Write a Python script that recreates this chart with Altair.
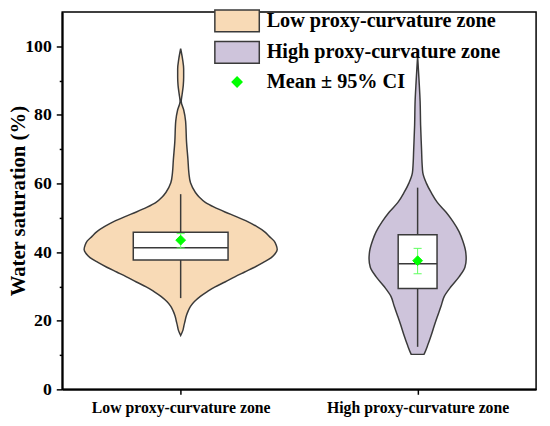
import json
import altair as alt
import pandas as pd

# ---------------- data ----------------
ZONES = ["Low proxy-curvature zone", "High proxy-curvature zone"]
MEAN_LABEL = "Mean ± 95% CI"
ZONE_X = [0.5, 1.5]

# violin outlines: sample value (%) and relative kernel density (half-width)
LOW_VALUES = [15.7, 17.2, 18.6, 20.0, 21.4, 22.8, 24.2, 25.6, 27.1, 28.5,
              29.9, 31.3, 32.8, 34.2, 35.6, 37.0, 38.4, 39.6, 40.8, 42.0,
              43.2, 44.6, 46.0, 47.5, 48.9, 50.3, 51.7, 53.1, 54.5, 56.0,
              57.4, 60.2, 63.1, 66.8, 72.0, 78.2, 81.5, 83.9, 86.0, 88.6,
              91.0, 93.4, 96.2, 99.3]
LOW_DENSITY = [0.0, 0.023, 0.034, 0.046, 0.058, 0.077, 0.102, 0.143, 0.204, 0.276,
               0.357, 0.459, 0.561, 0.663, 0.765, 0.857, 0.939, 0.980, 1.000, 0.990,
               0.969, 0.918, 0.867, 0.786, 0.694, 0.582, 0.459, 0.347, 0.255, 0.194,
               0.153, 0.102, 0.085, 0.076, 0.061, 0.051, 0.031, 0.006, 0.015, 0.027,
               0.031, 0.031, 0.020, 0.0]
HIGH_VALUES = [10.2, 10.5, 12.9, 15.7, 18.6, 21.4, 24.2, 27.1, 29.9, 32.8,
               35.6, 38.0, 40.3, 43.2, 46.0, 48.9, 51.7, 54.5, 57.4, 60.2,
               63.1, 66.0, 69.7, 77.0, 83.9, 90.0, 97.2]
HIGH_DENSITY = [0.066, 0.071, 0.105, 0.140, 0.173, 0.207, 0.242, 0.276, 0.344, 0.429,
                0.490, 0.503, 0.497, 0.469, 0.429, 0.367, 0.293, 0.204, 0.140, 0.089,
                0.054, 0.046, 0.041, 0.031, 0.026, 0.015, 0.0]

Q1 = [37.7, 29.4]
MEDIAN = [41.3, 36.6]
Q3 = [45.8, 45.1]
WHISKER_LO = [26.6, 12.4]
WHISKER_HI = [56.9, 58.8]
MEAN = [43.5, 37.5]
CI_LO = [41.2, 33.7]
CI_HI = [45.4, 41.1]

Y_MAJOR = [0, 20, 40, 60, 80, 100]
Y_MINOR = [10, 30, 50, 70, 90]

# ---------------- styles ----------------
FILLS = ["#F8DAB6", "#CEC4DB"]
OUTLINE = "#3A3A3A"
GREEN = "#00FF00"
CI_GREEN = "#5CFF5C"
FONT = "Liberation Serif"
VIOLIN_SCALE = 0.4075
BOX_HALF = [0.2, 0.082]
CAP_HALF = 0.017
SYM_SIZE = 484
RECT_PATH = "M-2.05,-1H2.05V1H-2.05Z"
DIAMOND_PATH = "M0,-0.45L0.45,0L0,0.45L-0.45,0Z"

# ---------------- tables ----------------
rows = []
for zi, (vals, dens) in enumerate([(LOW_VALUES, LOW_DENSITY), (HIGH_VALUES, HIGH_DENSITY)]):
    for v, d in zip(vals, dens):
        rows.append({"zone": ZONES[zi], "v": v,
                     "left": ZONE_X[zi] - d * VIOLIN_SCALE,
                     "right": ZONE_X[zi] + d * VIOLIN_SCALE})
violin_df = pd.DataFrame(rows)

stats = pd.DataFrame({
    "zone": ZONES, "x": ZONE_X, "q1": Q1, "med": MEDIAN, "q3": Q3,
    "wlo": WHISKER_LO, "whi": WHISKER_HI, "mean": MEAN,
    "cilo": CI_LO, "cihi": CI_HI,
    "bl": [x - h for x, h in zip(ZONE_X, BOX_HALF)],
    "br": [x + h for x, h in zip(ZONE_X, BOX_HALF)],
    "cl": [x - CAP_HALF for x in ZONE_X],
    "cr": [x + CAP_HALF for x in ZONE_X],
    "leg": [MEAN_LABEL] * 2,
})

XS = alt.Scale(domain=[0, 2], nice=False, zero=False)
YS = alt.Scale(domain=[0, 110], nice=False)

XAX = alt.Axis(values=ZONE_X, title=None, grid=False,
               labelExpr=f"{json.dumps(ZONES)}[datum.value < 1 ? 0 : 1]",
               tickSize=5, labelPadding=5, labelFontSize=16, labelFlush=False,
               labelOverlap=False, labelLimit=400)
YAX = alt.Axis(values=sorted(Y_MAJOR + Y_MINOR), title="Water saturation (%)",
               grid=False, labelOverlap=False,
               labelExpr="datum.value % 20 === 0 ? datum.label : ''",
               tickSize={"condition": {"test": "datum.value % 20 === 0", "value": 6}, "value": 3},
               labelFontSize=18, labelPadding=5,
               titleFontSize=21, titleX=-44, titleY=191.5, titleBaseline="middle")

layers = []
for i in range(2):
    layers.append(
        alt.Chart(violin_df[violin_df["zone"] == ZONES[i]])
        .mark_area(orient="horizontal", interpolate="monotone", fill=FILLS[i],
                   stroke=OUTLINE, strokeWidth=1.5, opacity=1)
        .encode(y=alt.Y("v:Q", scale=YS, axis=YAX),
                x=alt.X("left:Q", scale=XS, axis=XAX),
                x2="right:Q")
    )

base = alt.Chart(stats)
layers.append(base.mark_rule(color=OUTLINE, strokeWidth=1.5).encode(
    x=alt.X("x:Q", scale=XS, axis=XAX), y=alt.Y("wlo:Q", scale=YS, axis=YAX), y2="whi:Q"))
layers.append(base.mark_rect(fill="white", stroke=OUTLINE, strokeWidth=1.5).encode(
    x=alt.X("bl:Q", scale=XS, axis=XAX), x2="br:Q",
    y=alt.Y("q1:Q", scale=YS, axis=YAX), y2="q3:Q"))
layers.append(base.mark_rule(color=OUTLINE, strokeWidth=1.5).encode(
    x=alt.X("bl:Q", scale=XS, axis=XAX), x2="br:Q", y=alt.Y("med:Q", scale=YS, axis=YAX)))
layers.append(base.mark_rule(color=CI_GREEN, strokeWidth=1).encode(
    x=alt.X("x:Q", scale=XS, axis=XAX), y=alt.Y("cilo:Q", scale=YS, axis=YAX), y2="cihi:Q"))
layers.append(base.mark_rule(color=CI_GREEN, strokeWidth=1).encode(
    x=alt.X("cl:Q", scale=XS, axis=XAX), x2="cr:Q", y=alt.Y("cilo:Q", scale=YS, axis=YAX)))
layers.append(base.mark_rule(color=CI_GREEN, strokeWidth=1).encode(
    x=alt.X("cl:Q", scale=XS, axis=XAX), x2="cr:Q", y=alt.Y("cihi:Q", scale=YS, axis=YAX)))

LEG_DOMAIN = ZONES + [MEAN_LABEL]
LEG = alt.Legend(title=None, orient="none", legendX=165.5, legendY=-3,
                 labelFont=FONT, labelFontSize=20.5, labelFontWeight="bold",
                 labelColor="black", labelLimit=400, labelOffset=18,
                 rowPadding=4, symbolSize=SYM_SIZE, symbolStrokeWidth=1.5, padding=0)
layers.append(base.mark_point(filled=True, size=SYM_SIZE, opacity=1, strokeWidth=1).encode(
    x=alt.X("x:Q", scale=XS, axis=XAX),
    y=alt.Y("mean:Q", scale=YS, axis=YAX),
    fill=alt.Fill("leg:N", scale=alt.Scale(domain=LEG_DOMAIN, range=FILLS + [GREEN]), legend=LEG),
    shape=alt.Shape("leg:N", scale=alt.Scale(domain=LEG_DOMAIN, range=[RECT_PATH, RECT_PATH, DIAMOND_PATH]), legend=LEG),
    stroke=alt.Stroke("leg:N", scale=alt.Scale(domain=LEG_DOMAIN, range=[OUTLINE, OUTLINE, GREEN]), legend=LEG),
))

chart = (
    alt.layer(*layers)
    .properties(width=481, height=383,
                autosize=alt.AutoSizeParams(type="none"),
                padding={"left": 55, "top": 1, "right": 6, "bottom": 26})
    .configure_view(stroke="black", strokeWidth=1.5)
    .configure_axis(domainColor="black", domainWidth=2, tickColor="black", tickWidth=1.5,
                    labelFont=FONT, labelFontWeight="bold", labelColor="black",
                    titleFont=FONT, titleFontWeight="bold", titleColor="black")
)

chart.save("out.html", embed_options={"renderer": "svg", "actions": False})
